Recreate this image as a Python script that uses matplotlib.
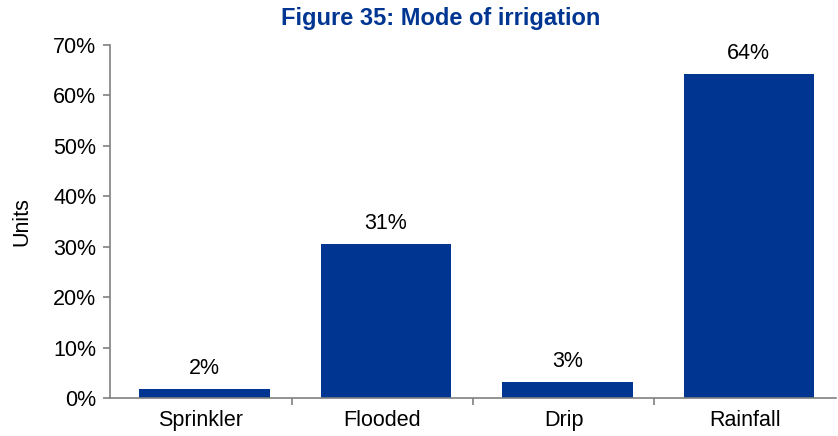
import matplotlib
matplotlib.use("Agg")
import matplotlib.pyplot as plt
from matplotlib.ticker import FixedLocator, FuncFormatter

plt.rcParams['font.family'] = ['Liberation Sans', 'DejaVu Sans']

categories = ["Sprinkler", "Flooded", "Drip", "Rainfall"]
shares = [1.8, 30.6, 3.1, 64.2]
y_ticks = [0, 10, 20, 30, 40, 50, 60, 70]

bar_color = "#003591"
axis_color = "#808080"
fs = 15.5

fig = plt.figure(figsize=(8.38, 4.36), dpi=100)
ax = fig.add_axes([0.1313, 0.0872, 0.8663, 0.8096])

x = [i + 0.02 for i in range(len(categories))]
bars = ax.bar(x, shares, width=0.72, color=bar_color)

for b, v in zip(bars, shares):
    ax.text(b.get_x() + b.get_width() / 2, v + 3.0, f"{v:.0f}%",
            ha="center", va="baseline", fontsize=fs, color="black")

ax.set_xlim(-0.5, len(categories) - 0.5)
ax.set_ylim(0, 70)
ax.set_yticks(y_ticks)
ax.yaxis.set_major_formatter(FuncFormatter(lambda v, p: f"{v:.0f}%"))

ax.set_xticks(list(range(len(categories))))
ax.set_xticklabels(categories)
ax.xaxis.set_minor_locator(FixedLocator([i + 0.5 for i in range(len(categories) - 1)]))
ax.tick_params(axis="x", which="major", length=0, pad=9, labelsize=fs)
ax.tick_params(axis="x", which="minor", length=5, color=axis_color, width=1.2)
ax.tick_params(axis="y", length=5, color=axis_color, width=1.2, labelsize=fs, pad=5)

for side in ("top", "right"):
    ax.spines[side].set_visible(False)
for side in ("left", "bottom"):
    ax.spines[side].set_color(axis_color)
    ax.spines[side].set_linewidth(1.2)

ax.set_ylabel("Units", fontsize=fs, labelpad=15)

fig.text(441 / 838, 0.958, "Figure 35: Mode of irrigation", ha="center", va="center",
         fontsize=17, fontweight="bold", color=bar_color)

fig.savefig("out.png", dpi=100)
